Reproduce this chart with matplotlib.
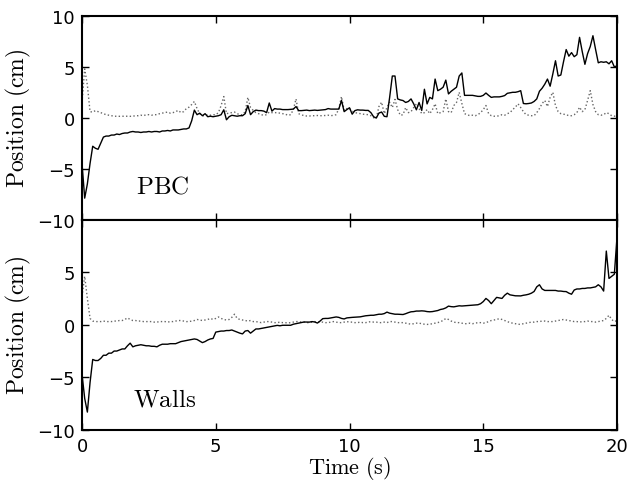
import numpy as np
import matplotlib
matplotlib.use("Agg")
import matplotlib.pyplot as plt

# ---------------- data ----------------
t_start, t_end, n_pts = 0.0, 20.0, 201
time_s = np.linspace(t_start, t_end, n_pts)

pbc_solid = [
    -4.5, -7.9, -6.5, -4.5, -2.8, -3.0, -3.1, -2.5, -1.9, -1.8,
    -1.8, -1.7, -1.7, -1.6, -1.65, -1.55, -1.5, -1.5, -1.4, -1.35,
    -1.4, -1.4, -1.45, -1.4, -1.4, -1.35, -1.4, -1.35, -1.35, -1.4,
    -1.3, -1.3, -1.25, -1.3, -1.2, -1.2, -1.2, -1.15, -1.1, -1.1,
    -1.0, -0.3, 0.75, 0.3, 0.45, 0.2, 0.4, 0.1, 0.15, 0.1,
    0.15, 0.2, 0.3, 0.78, -0.2, 0.1, 0.24, 0.2, 0.15, 0.2,
    0.2, 0.4, 1.2, 0.3, 0.6, 0.75, 0.7, 0.7, 0.65, 0.5,
    1.45, 0.65, 0.9, 0.85, 0.85, 0.8, 0.8, 0.8, 0.82, 0.85,
    1.1, 0.7, 0.7, 0.72, 0.75, 0.7, 0.72, 0.75, 0.72, 0.75,
    0.78, 0.8, 0.9, 0.85, 0.85, 0.85, 0.85, 1.7, 0.6, 0.8,
    0.98, 0.35, 0.7, 0.78, 0.75, 0.75, 0.72, 0.72, 0.5, 0.1,
    -0.03, 0.46, 0.56, 0.14, 0.1, 2.0, 4.1, 4.1, 1.85, 1.75,
    1.69, 1.5, 1.6, 1.85, 1.36, 0.78, 1.5, 0.72, 2.8, 1.36,
    2.0, 1.85, 3.8, 2.66, 2.8, 3.0, 3.7, 2.34, 2.6, 2.8,
    3.0, 4.1, 4.4, 2.2, 2.2, 2.2, 2.2, 2.15, 2.1, 2.1,
    2.2, 2.43, 2.2, 2.0, 2.05, 2.05, 2.05, 2.1, 2.18, 2.4,
    2.45, 2.5, 2.5, 2.56, 2.66, 1.4, 1.37, 1.4, 1.45, 1.6,
    1.85, 2.6, 2.9, 3.3, 3.8, 3.1, 4.3, 5.6, 4.1, 4.2,
    5.5, 6.7, 6.05, 6.4, 6.0, 6.2, 7.9, 6.5, 5.25, 6.3,
    7.0, 8.06, 6.7, 5.4, 5.5, 5.45, 5.5, 5.3, 5.6, 5.0,
    5.1,
]

pbc_dotted = [
    1.5, 4.8, 3.2, 0.6, 0.55, 0.7, 0.6, 0.5, 0.4, 0.3,
    0.25, 0.2, 0.15, 0.14, 0.14, 0.15, 0.14, 0.15, 0.14, 0.15,
    0.2, 0.2, 0.25, 0.2, 0.3, 0.3, 0.25, 0.3, 0.3, 0.4,
    0.45, 0.5, 0.56, 0.45, 0.5, 0.6, 0.72, 0.5, 0.6, 0.9,
    1.04, 1.3, 1.6, 0.9, 0.4, 0.2, 0.2, 0.3, 0.25, 0.3,
    0.3, 0.5, 1.2, 2.08, 0.4, 0.45, 0.5, 0.56, 0.4, 0.3,
    0.3, 0.6, 2.0, 1.0, 0.72, 0.5, 0.4, 0.3, 0.24, 0.3,
    0.56, 0.5, 0.5, 0.5, 0.45, 0.4, 0.35, 0.24, 0.3, 0.8,
    1.85, 0.4, 0.3, 0.2, 0.17, 0.17, 0.2, 0.2, 0.22, 0.2,
    0.2, 0.22, 0.25, 0.2, 0.24, 0.3, 0.9, 2.08, 0.72, 0.9,
    0.9, 0.65, 0.5, 0.46, 0.4, 0.35, 0.33, 0.3, 0.2, 0.0,
    -0.05, 1.1, 1.53, 0.4, 1.0, 1.53, 1.0, 1.8, 0.8, 0.24,
    0.3, 1.0, 0.5, 0.6, 1.0, 1.37, 0.9, 0.4, 0.5, 0.8,
    0.4, 0.8, 1.37, 0.4, 0.5, 0.6, 1.85, 0.6, 0.5, 1.2,
    1.5, 2.5, 1.4, 0.4, 0.3, 0.2, 0.25, 0.2, 0.3, 0.5,
    0.8, 1.2, 0.4, 0.2, 0.15, 0.15, 0.2, 0.3, 0.25, 0.4,
    0.5, 0.8, 1.04, 1.37, 1.0, 0.6, 0.3, 0.25, 0.2, 0.2,
    0.5, 0.9, 1.4, 1.7, 1.1, 2.0, 2.5, 1.2, 0.6, 0.4,
    0.35, 0.3, 0.2, 0.2, 0.3, 0.5, 1.04, 0.6, 0.8, 1.7,
    2.66, 1.3, 0.6, 0.3, 0.25, 0.3, 0.5, 0.4, 0.2, 0.15,
    0.2,
]

walls_solid = [
    -4.7, -7.0, -8.3, -5.5, -3.3, -3.4, -3.4, -3.2, -2.9, -2.9,
    -2.7, -2.7, -2.5, -2.5, -2.4, -2.3, -2.3, -2.0, -1.75, -2.1,
    -2.0, -1.95, -1.9, -1.95, -2.0, -2.0, -2.05, -2.05, -2.1, -1.95,
    -1.85, -1.85, -1.85, -1.8, -1.8, -1.8, -1.7, -1.6, -1.55, -1.5,
    -1.45, -1.4, -1.35, -1.4, -1.55, -1.7, -1.6, -1.45, -1.35, -1.3,
    -0.7, -0.65, -0.6, -0.6, -0.55, -0.55, -0.5, -0.6, -0.7, -0.8,
    -0.87, -0.6, -0.55, -0.8, -0.6, -0.4, -0.4, -0.35, -0.3, -0.25,
    -0.2, -0.15, -0.1, -0.06, -0.1, -0.05, -0.05, -0.06, -0.05, 0.05,
    0.1, 0.15, 0.2, 0.26, 0.25, 0.25, 0.3, 0.26, 0.16, 0.35,
    0.58, 0.6, 0.6, 0.65, 0.7, 0.74, 0.7, 0.6, 0.55, 0.65,
    0.68, 0.7, 0.72, 0.74, 0.75, 0.8, 0.85, 0.88, 0.9, 0.9,
    0.95, 1.0, 1.0, 1.06, 1.2, 1.1, 1.05, 1.0, 1.0, 0.98,
    0.97, 1.05, 1.15, 1.23, 1.25, 1.3, 1.3, 1.32, 1.3, 1.25,
    1.23, 1.25, 1.3, 1.35, 1.45, 1.5, 1.6, 1.77, 1.72, 1.7,
    1.75, 1.8, 1.78, 1.8, 1.82, 1.85, 1.85, 1.87, 1.9, 2.0,
    2.2, 2.5, 2.3, 2.0, 2.3, 2.6, 2.55, 2.5, 2.8, 3.0,
    2.84, 2.8, 2.75, 2.74, 2.74, 2.8, 2.84, 2.9, 3.0, 3.16,
    3.6, 3.8, 3.4, 3.26, 3.26, 3.26, 3.25, 3.26, 3.2, 3.2,
    3.16, 3.15, 3.0, 2.9, 3.3, 3.4, 3.4, 3.45, 3.45, 3.5,
    3.5, 3.55, 3.6, 3.8, 3.6, 3.2, 7.0, 4.4, 4.6, 4.8,
    8.3,
]

walls_dotted = [
    2.7, 4.6, 2.5, 0.6, 0.35, 0.3, 0.3, 0.3, 0.35, 0.3,
    0.3, 0.3, 0.35, 0.35, 0.4, 0.4, 0.5, 0.65, 0.5, 0.4,
    0.4, 0.35, 0.35, 0.3, 0.3, 0.3, 0.3, 0.25, 0.25, 0.3,
    0.3, 0.3, 0.25, 0.3, 0.3, 0.35, 0.4, 0.4, 0.35, 0.3,
    0.3, 0.35, 0.4, 0.5, 0.45, 0.4, 0.45, 0.5, 0.6, 0.5,
    0.6, 0.74, 0.6, 0.5, 0.45, 0.5, 0.7, 1.0, 0.6, 0.5,
    0.45, 0.4, 0.35, 0.4, 0.3, 0.3, 0.25, 0.2, 0.25, 0.3,
    0.3, 0.25, 0.2, 0.2, 0.25, 0.2, 0.2, 0.16, 0.2, 0.25,
    0.3, 0.3, 0.25, 0.25, 0.2, 0.2, 0.25, 0.3, 0.25, 0.25,
    0.25, 0.2, 0.2, 0.25, 0.3, 0.25, 0.2, 0.2, 0.25, 0.3,
    0.25, 0.25, 0.2, 0.2, 0.25, 0.2, 0.2, 0.25, 0.3, 0.25,
    0.25, 0.2, 0.2, 0.25, 0.2, 0.3, 0.3, 0.25, 0.2, 0.2,
    0.2, 0.15, 0.1, 0.05, 0.1, 0.15, 0.15, 0.1, 0.05, 0.03,
    0.05, 0.1, 0.15, 0.2, 0.3, 0.4, 0.6, 0.5, 0.35, 0.25,
    0.2, 0.2, 0.15, 0.1, 0.1, 0.15, 0.1, 0.15, 0.2, 0.2,
    0.15, 0.2, 0.3, 0.4, 0.45, 0.5, 0.58, 0.5, 0.4, 0.3,
    0.2, 0.15, 0.1, 0.05, 0.03, 0.1, 0.15, 0.2, 0.25, 0.25,
    0.3, 0.3, 0.35, 0.35, 0.3, 0.3, 0.3, 0.35, 0.4, 0.45,
    0.5, 0.45, 0.4, 0.35, 0.3, 0.3, 0.25, 0.3, 0.3, 0.35,
    0.3, 0.3, 0.25, 0.3, 0.35, 0.4, 0.6, 0.9, 0.5, 0.3,
    0.4,
]

panel_labels = ["PBC", "Walls"]
top_yticks = [-10, -5, 0, 5, 10]
bottom_yticks = [-10, -5, 0, 5]
xticks = [0, 5, 10, 15, 20]

# ---------------- style ----------------
plt.rcParams["mathtext.fontset"] = "cm"
plt.rcParams["font.family"] = ["DejaVu Sans"]

fig = plt.figure(figsize=(6.28, 4.81), dpi=100)
gs = fig.add_gridspec(2, 1, left=0.1306, right=0.9825, top=0.9647, bottom=0.104,
                      hspace=0.0, height_ratios=[205, 212])
ax1 = fig.add_subplot(gs[0])
ax2 = fig.add_subplot(gs[1], sharex=ax1)

label_pos = [(0.1, 0.165), (0.095, 0.15)]
for ax, solid, dotted, lab, yt, pos in [
    (ax1, pbc_solid, pbc_dotted, panel_labels[0], top_yticks, label_pos[0]),
    (ax2, walls_solid, walls_dotted, panel_labels[1], bottom_yticks, label_pos[1]),
]:
    ax.plot(time_s, dotted, linestyle=":", color="0.4", lw=1.0)
    ax.plot(time_s, solid, linestyle="-", color="black", lw=1.0)
    ax.set_xlim(0, 20)
    ax.set_ylim(-10, 10)
    ax.set_yticks(yt)
    ax.set_xticks(xticks)
    ax.tick_params(direction="in", top=True, right=True, length=5, width=1,
                   labelsize=13, pad=5)
    for sp in ax.spines.values():
        sp.set_linewidth(1.5)
    ax.set_ylabel(r"$\mathrm{Position\ (cm)}$", fontsize=17, labelpad=3)
    ax.text(pos[0], pos[1], r"$\mathrm{%s}$" % lab, transform=ax.transAxes,
            fontsize=18, va="center", ha="left")

plt.setp(ax1.get_xticklabels(), visible=False)
ax2.set_xlabel(r"$\mathrm{Time\ (s)}$", fontsize=16, labelpad=-1)

fig.savefig("out.png", dpi=100)
